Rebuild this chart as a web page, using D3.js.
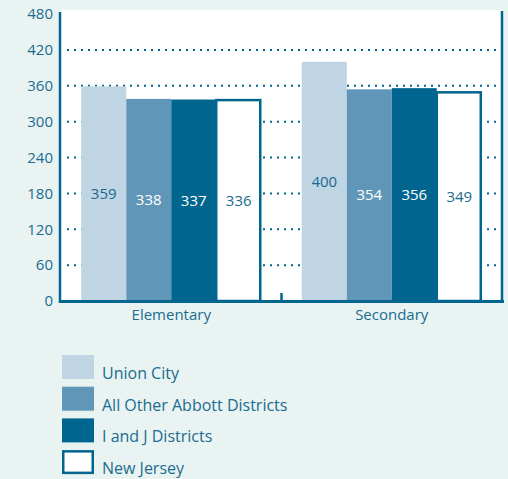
<!DOCTYPE html>
<html>
<head>
<meta charset="utf-8">
<script src="https://cdn.jsdelivr.net/npm/d3@7"></script>
<style>
  body { margin: 0; background: #e9f3f2; }
  svg { display: block; font-family: "Open Sans", sans-serif; }
</style>
</head>
<body>
<svg id="chart"></svg>
<script>
// Data
const groups = ["Elementary", "Secondary"];
const series = ["Union City", "All Other Abbott Districts", "I and J Districts", "New Jersey"];
const elementary = [359, 338, 337, 336];
const secondary = [400, 354, 356, 349];
const yTicks = [0, 60, 120, 180, 240, 300, 360, 420, 480];

const values = [elementary, secondary];
const colors = ["#c0d5e3", "#6097b8", "#00668f", "#ffffff"];
const labelColors = ["#1a6a8e", "#ffffff", "#ffffff", "#1a6a8e"];
const dark = "#00668f";
const textColor = "#1a6c90";

const width = 508, height = 479;
const plotLeft = 61, plotRight = 502, plotTop = 10, plotBottom = 301;

const svg = d3.select("#chart")
    .attr("width", width)
    .attr("height", height);

// Scales
const x0 = d3.scaleBand()
    .domain(groups)
    .range([plotLeft, plotRight])
    .paddingInner(0.1837)
    .paddingOuter(0.0918);

const x1 = d3.scaleBand()
    .domain(series)
    .range([0, x0.bandwidth()]);

const y = d3.scaleLinear()
    .domain([0, 480])
    .range([plotBottom, 14]);

// White plot area
svg.append("rect")
    .attr("x", plotLeft)
    .attr("y", plotTop)
    .attr("width", plotRight - plotLeft)
    .attr("height", plotBottom - plotTop)
    .attr("fill", "#fff");

// Dotted gridlines
svg.append("g")
    .selectAll("line")
    .data(yTicks.filter(d => d > 0 && d < 480))
    .enter()
    .append("line")
    .attr("x1", 67)
    .attr("x2", plotRight - 2)
    .attr("y1", d => y(d))
    .attr("y2", d => y(d))
    .attr("stroke", dark)
    .attr("stroke-width", 2)
    .attr("stroke-dasharray", "2 5");

// Tick labels
svg.append("g")
    .selectAll("text")
    .data(yTicks)
    .enter()
    .append("text")
    .attr("x", 53)
    .attr("y", d => y(d))
    .attr("dy", "0.35em")
    .attr("text-anchor", "end")
    .attr("font-size", 15)
    .attr("fill", textColor)
    .text(d => d);

// Bars
const barData = (d, i) => values[i].map((v, j) => ({ key: series[j], value: v, j: j }));

const g = svg.selectAll(".group")
    .data(groups)
    .enter()
    .append("g")
    .attr("class", "group")
    .attr("transform", d => `translate(${x0(d)},0)`);

g.selectAll("rect")
    .data(barData)
    .enter()
    .append("rect")
    .attr("x", d => x1(d.key))
    .attr("y", d => y(d.value))
    .attr("width", d => x1.bandwidth() - (d.j === 3 ? 1 : 0))
    .attr("height", d => plotBottom - y(d.value))
    .attr("fill", d => colors[d.j])
    .attr("stroke", d => d.j === 3 ? dark : "none")
    .attr("stroke-width", 2.5);

g.selectAll(".val")
    .data(barData)
    .enter()
    .append("text")
    .attr("class", "val")
    .attr("x", d => x1(d.key) + x1.bandwidth() / 2)
    .attr("y", d => (y(d.value) + plotBottom) / 2)
    .attr("dy", "0.35em")
    .attr("text-anchor", "middle")
    .attr("font-size", 15)
    .attr("fill", d => labelColors[d.j])
    .text(d => d.value);

// Axis lines
svg.append("line")
    .attr("x1", plotLeft - 1).attr("x2", plotLeft - 1)
    .attr("y1", 12).attr("y2", plotBottom + 2)
    .attr("stroke", dark).attr("stroke-width", 2.5);

svg.append("line")
    .attr("x1", plotRight).attr("x2", plotRight)
    .attr("y1", 11).attr("y2", plotBottom + 1)
    .attr("stroke", dark).attr("stroke-width", 2.5);

svg.append("line")
    .attr("x1", plotLeft - 2).attr("x2", plotRight + 2)
    .attr("y1", plotBottom + 0.5).attr("y2", plotBottom + 0.5)
    .attr("stroke", dark).attr("stroke-width", 3);

// Middle tick between groups
const mid = (x0(groups[0]) + x0.bandwidth() + x0(groups[1])) / 2;
svg.append("line")
    .attr("x1", mid).attr("x2", mid)
    .attr("y1", 293).attr("y2", plotBottom)
    .attr("stroke", dark).attr("stroke-width", 2.5);

// Group labels
svg.append("g")
    .selectAll("text")
    .data(groups)
    .enter()
    .append("text")
    .attr("x", d => x0(d) + x0.bandwidth() / 2)
    .attr("y", 315)
    .attr("dy", "0.35em")
    .attr("text-anchor", "middle")
    .attr("font-size", 15)
    .attr("fill", textColor)
    .text(d => d);

// Legend
const legend = svg.append("g")
    .selectAll("g")
    .data(series)
    .enter()
    .append("g")
    .attr("transform", (d, i) => `translate(62, ${355 + i * 31.7})`);

legend.append("rect")
    .attr("x", (d, i) => i === 3 ? 1.25 : 0)
    .attr("y", (d, i) => i === 3 ? 1.25 : 0)
    .attr("width", (d, i) => i === 3 ? 29.5 : 32)
    .attr("height", (d, i) => i === 3 ? 21.5 : 24)
    .attr("fill", (d, i) => colors[i])
    .attr("stroke", (d, i) => i === 3 ? dark : "none")
    .attr("stroke-width", 2.5);

legend.append("text")
    .attr("x", 40)
    .attr("y", 24)
    .attr("font-size", 16)
    .attr("fill", textColor)
    .text(d => d);
</script>
</body>
</html>
